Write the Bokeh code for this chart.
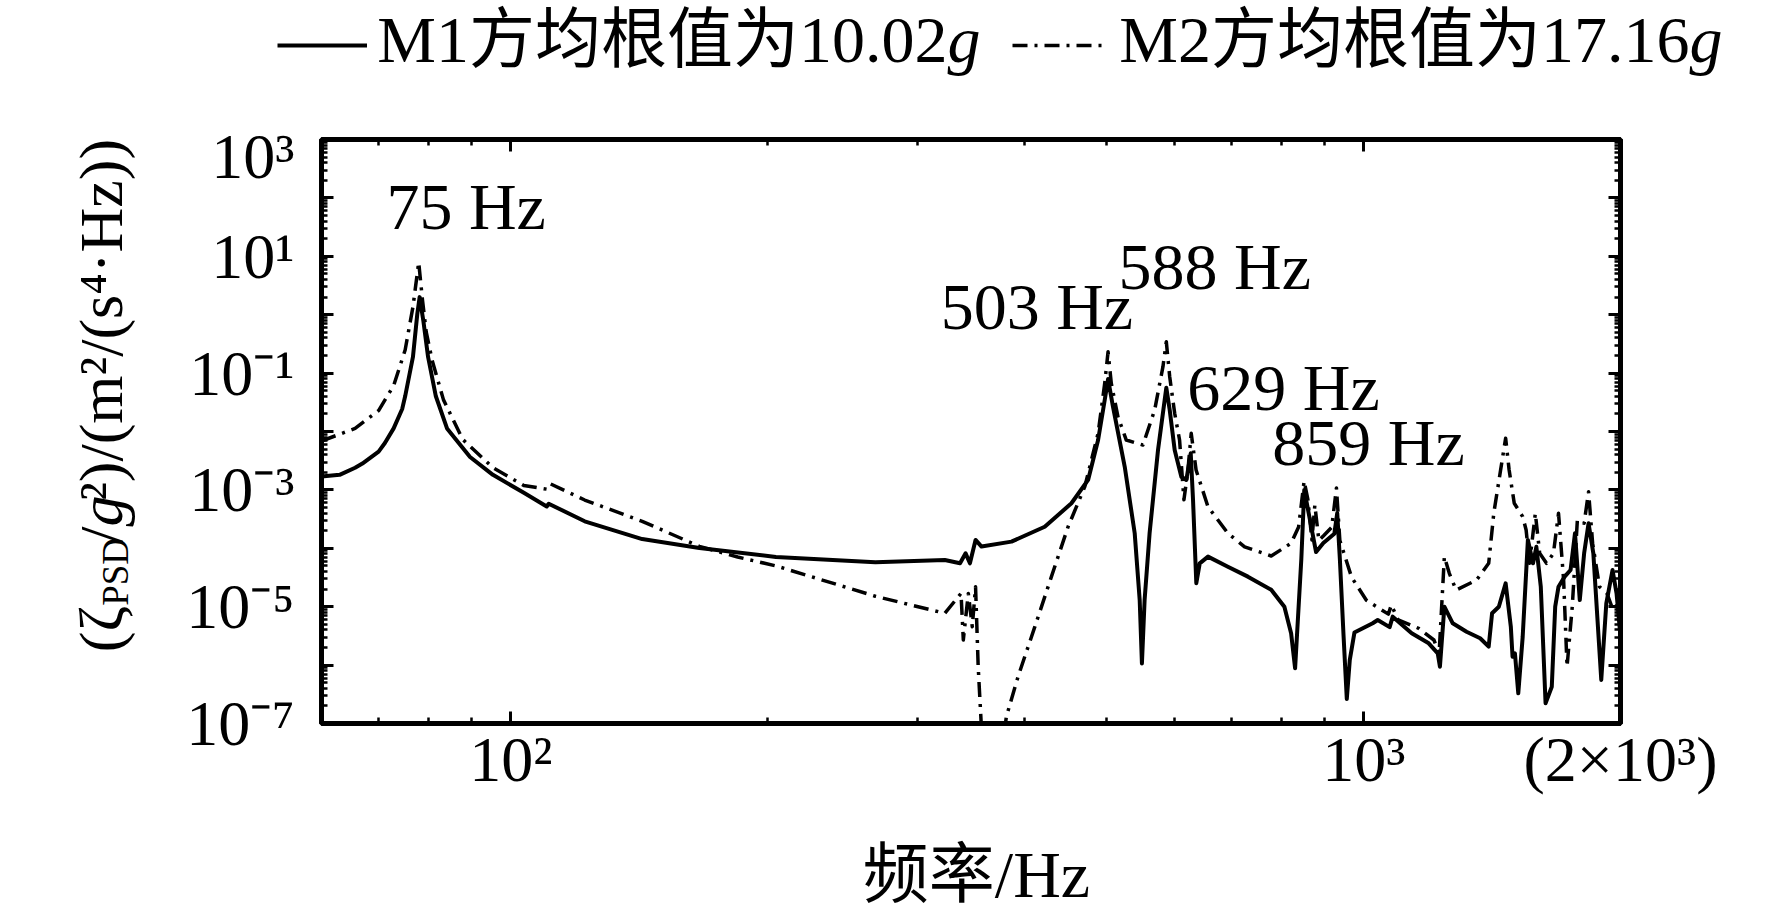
from bokeh.plotting import figure
from bokeh.layouts import column, row
from bokeh.models import (Range1d, FixedTicker, LogAxis, Label, Legend, LegendItem,
                          CustomJSTickFormatter, ColumnDataSource)
from bokeh.core.properties import value
from bokeh.embed import file_html
from bokeh.resources import INLINE
import math

# ---------------- data ----------------
freq_m1 = [60, 63.0, 65.7, 67.0, 70.0, 71.2, 72.9, 74.6, 75.2, 76.8, 77.7, 78.2, 79.0, 80.0,
           81.7, 84.2, 89.6, 95.3,
           103.6, 110.2, 110.8, 122.1, 142.6, 166.4, 204.6, 267.6, 322.8, 336.3, 341.4, 345.4,
           350.7, 356.4, 386.4, 422.7, 454.3, 475.2, 488.2, 497.0, 501.5, 508.2, 524.6, 538.9,
           546.2, 549.5, 553.5, 561.0, 573.9, 584.3, 586.9, 592.3, 600.3, 611.2, 619.5, 626.9,
           630.8, 636.4, 642.3, 656.8, 693.0, 731.5, 779.0, 807.2, 822.0, 830.9, 845.0, 851.7,
           861.9, 879.3, 896.7, 923.7, 931.0, 937.6, 947.0, 955.3, 963.1, 975.2, 1024.5, 1038.5,
           1072.5, 1081.4, 1138.3, 1191.8, 1221.2, 1228.4, 1243.2, 1271.6, 1319.8, 1369.3, 1401.2,
           1414.1, 1440.1, 1466.8, 1487.5, 1494.4, 1504.1, 1517.7, 1535.9, 1557.6, 1579.3, 1593.6,
           1612.8, 1633.7, 1661.4, 1676.8, 1691.9, 1720.2, 1747.8, 1768.8, 1791.8, 1813.0, 1834.8,
           1858.6, 1898.8, 1924.8, 1957.5, 1978.8, 2000]
psd_m1 = [1.69e-3, 1.81e-3, 2.40e-3, 2.83e-3, 4.53e-3, 6.35e-3, 1.13e-2, 2.43e-2, 4.01e-2,
          0.189, 1.02, 2.0, 0.771, 0.189, 4.01e-2,
          1.13e-2, 3.66e-3, 1.81e-3, 8.95e-4, 5.2e-4, 5.8e-4, 2.90e-4, 1.44e-4, 1.01e-4, 7.10e-5,
          5.75e-5, 6.31e-5, 5.53e-5, 8.20e-5, 5.53e-5, 1.39e-4, 1.07e-4, 1.30e-4, 2.34e-4, 5.90e-4,
          1.48e-3, 7.14e-3, 3.46e-2, 7.9e-2, 2.66e-2, 2.49e-3, 1.81e-4, 1.30e-5, 1.07e-6, 1.30e-5,
          1.81e-4, 4.82e-3, 3.46e-2, 5.6e-2, 2.33e-2, 4.82e-3, 1.68e-3, 1.48e-3, 4.24e-3, 6.71e-4,
          2.52e-5, 5.53e-5, 7.20e-5, 4.84e-5, 3.27e-5, 1.95e-5, 1.0e-5, 3.51e-6, 8.81e-7, 6.61e-5,
          1.0e-3, 4.01e-4, 8.61e-5, 1.23e-4, 1.77e-4, 4.01e-4, 6.61e-5, 3.2e-6, 2.63e-7, 1.23e-6,
          3.61e-6, 5.20e-6, 5.92e-6, 4.47e-6, 6.76e-6, 3.51e-6, 2.36e-6, 1.59e-6, 9.40e-7, 1.0e-5,
          5.20e-6, 3.73e-6, 2.88e-6, 2.07e-6, 7.71e-6, 1.0e-5, 2.51e-5, 4.55e-6, 1.39e-6, 1.59e-6,
          3.29e-7, 3.06e-6, 1.39e-4, 5.53e-5, 1.06e-4, 2.20e-5, 2.22e-7, 4.27e-7, 1.0e-5, 2.20e-5,
          3.27e-5, 4.25e-5, 1.81e-4, 1.30e-5, 8.20e-5, 2.68e-4, 8.20e-5, 5.56e-7, 1.14e-5, 4.25e-5,
          1.69e-5, 3.06e-6]

freq_m2 = [60, 65.7, 70.0, 72.9, 75.2, 76.8, 78.0, 78.8, 79.6, 80.9, 83.4, 87.8, 95.3, 103.6,
           110.2, 111.3, 122.1, 142.6, 166.4, 184.5, 204.6, 267.6, 322.8, 337.2, 339.3, 343.9,
           347.6, 350.7, 353.2, 356.4, 362.8, 372.7, 381.1, 393.3, 411.6, 430.4, 450.2, 471.0,
           488.2, 497.0, 501.5, 505.9, 515.1, 526.8, 551.0, 568.7, 581.6, 586.9, 592.3, 600.3,
           608.3, 615.5, 622.2, 627.7, 636.0, 656.8, 693.0, 725.0, 779.0, 822.0, 838.8, 851.4,
           860.0, 869.4, 876.4, 886.0, 896.7, 917.3, 929.0, 937.6, 967.9, 1007.2, 1068.8, 1077.4,
           1097.5, 1159.8, 1208.6, 1225.7, 1243.2, 1259.9, 1283.3, 1356.0, 1401.2, 1420.6, 1447.0,
           1466.8, 1480.7, 1501.3, 1535.9, 1550.2, 1564.6, 1589.2, 1608.0, 1637.9, 1668.8, 1691.9,
           1715.4, 1731.3, 1755.8, 1780.2, 1813.0, 1834.8, 1855.0, 1889.8, 1928.3, 1960.2, 2000]
psd_m2 = [6.87e-3, 1.13e-2, 2.28e-2, 6.11e-2, 0.249, 1.36, 7.9, 1.79, 0.506, 0.164, 3.48e-2,
          7.38e-3, 2.40e-3, 1.19e-3, 1.03e-3, 1.27e-3, 6.71e-4, 2.90e-4, 1.08e-4, 7.10e-5, 5.00e-5,
          1.51e-5, 7.71e-6, 1.69e-5, 2.69e-6, 1.69e-5, 4.55e-6, 2.20e-5, 9.40e-7, 7.8e-8, 1e-8,
          1e-8, 1.31e-7, 6.32e-7, 4.55e-6, 3.27e-5, 2.34e-4, 1.14e-3, 9.31e-3, 6.68e-2, 0.232,
          6.68e-2, 1.79e-2, 7.14e-3, 5.87e-3, 2.33e-2, 0.129, 0.345, 8.67e-2, 2.05e-2, 7.14e-3,
          6.76e-4, 2.19e-3, 9.31e-3, 2.19e-3, 5.15e-4, 1.81e-4, 1.06e-4, 7.38e-5, 1.22e-4, 2.32e-4,
          1.42e-3, 6.90e-4, 1.39e-4, 5.50e-4, 1.36e-4, 1.62e-4, 2.29e-4, 1.08e-3, 1.36e-4, 3.18e-5,
          1.29e-5, 7.46e-6, 1.07e-5, 5.92e-6, 4.27e-6, 2.69e-6, 1.59e-6, 7.18e-5, 3.73e-5, 1.93e-5,
          2.86e-5, 5.53e-5, 3.97e-4, 2.19e-3, 7.66e-3, 2.19e-3, 5.90e-4, 3.48e-4, 2.06e-4, 5.53e-5,
          3.97e-4, 8.20e-5, 5.53e-5, 8.20e-5, 3.97e-4, 2.86e-5, 9.40e-7, 1.0e-5, 3.05e-4, 2.68e-4,
          9.31e-4, 1.22e-4, 2.20e-5, 1.69e-5, 8.77e-6, 1.30e-5]

x_tick_values = [100, 1000, 2000]
x_tick_labels = ["10²", "10³", "(2×10³)"]
x_minor_ticks = [60, 70, 80, 90, 200, 300, 400, 500, 600, 700, 800, 900]
y_tick_values = [1e-7, 1e-6, 1e-5, 1e-4, 1e-3, 1e-2, 1e-1, 1, 10, 100, 1000]
y_tick_labels = ["10⁻⁷", "", "10⁻⁵", "", "10⁻³", "", "10⁻¹", "", "10¹", "", "10³"]
y_minor_ticks = [m * 10.0 ** e for e in range(-7, 3) for m in range(2, 10)]

peak_labels = ["75 Hz", "503 Hz", "588 Hz", "629 Hz", "859 Hz"]
peak_label_f = [71.5, 319.2, 515.9, 621.1, 781.3]
peak_label_v = [72.6, 1.36, 6.82, 0.0577, 6.36e-3]

legend_texts = ["M1方均根值为10.02", "M2方均根值为17.16"]
x_title = "频率/Hz"

SERIF = "'Liberation Serif', 'Noto Sans CJK SC'"
W, TOP_H, MID_H, BOT_H, LEFT_W = 1756, 120, 700, 92, 170
NAN = float("nan")


def helper(w, h):
    f = figure(width=w, height=h, x_range=Range1d(0, w), y_range=Range1d(0, h),
               output_backend="svg", toolbar_location=None, min_border=0,
               x_axis_location=None, y_axis_location=None)
    f.grid.visible = False
    f.outline_line_color = None
    f.background_fill_color = "white"
    f.border_fill_color = "white"
    return f


# ---------------- main plot ----------------
p = figure(width=W - LEFT_W, height=MID_H, x_axis_type="log", y_axis_type="log",
           x_range=Range1d(60, 2000), y_range=Range1d(1e-7, 1e3),
           output_backend="svg", toolbar_location=None,
           min_border_left=151, min_border_right=136, min_border_top=19, min_border_bottom=97)
p.grid.visible = False
p.outline_line_color = "black"
p.outline_line_width = 5
p.background_fill_color = "white"
p.border_fill_color = "white"

bottom_ax = p.xaxis[0]
left_ax = p.yaxis[0]

src1 = ColumnDataSource(dict(f=freq_m1, psd=psd_m1))
src2 = ColumnDataSource(dict(f=freq_m2, psd=psd_m2))
r1 = p.line("f", "psd", source=src1, line_color="black", line_width=4, line_join="round")
r2 = p.line("f", "psd", source=src2, line_color="black", line_width=3.5, line_join="round",
            line_dash="15 7 3 7")

xt = FixedTicker(ticks=x_tick_values, minor_ticks=x_minor_ticks)
yt = FixedTicker(ticks=y_tick_values, minor_ticks=y_minor_ticks)

bottom_ax.ticker = xt
bottom_ax.major_label_overrides = dict(zip(x_tick_values, x_tick_labels))
left_ax.ticker = yt
left_ax.major_label_overrides = dict(zip(y_tick_values, y_tick_labels))

top_ax = LogAxis(ticker=xt, formatter=CustomJSTickFormatter(code="return ''"))
right_ax = LogAxis(ticker=yt, formatter=CustomJSTickFormatter(code="return ''"))
p.add_layout(top_ax, "above")
p.add_layout(right_ax, "right")

for ax in [bottom_ax, left_ax, top_ax, right_ax]:
    ax.axis_line_width = 5
    ax.axis_line_color = "black"
    ax.major_tick_in = 12
    ax.major_tick_out = 0
    ax.minor_tick_in = 6
    ax.minor_tick_out = 0
    ax.major_tick_line_width = 3
    ax.minor_tick_line_width = 2.5
    ax.major_tick_line_color = "black"
    ax.minor_tick_line_color = "black"
    ax.major_label_text_font = "Liberation Serif"
    ax.major_label_text_font_size = "64px"
    ax.major_label_text_color = "black"

for ax in [top_ax, right_ax]:
    ax.major_label_text_font_size = "1px"
    ax.major_label_standoff = 0

bottom_ax.major_label_standoff = 0
left_ax.major_label_standoff = 27

for t, f, v in zip(peak_labels, peak_label_f, peak_label_v):
    p.add_layout(Label(x=f, y=v, text=t, text_font=SERIF, text_font_size="66px",
                       text_align="left", text_baseline="alphabetic", text_color="black"))

# ---------------- legend strip (top) ----------------
top = helper(W, TOP_H)
# legend-only renderers (a single NaN point, so nothing is drawn in the strip itself)
d1 = top.line(x=[NAN], y=[NAN], line_color="black", line_width=4)
d2 = top.line(x=[NAN], y=[NAN], line_color="black", line_width=3.5, line_dash="15 7 3 7")
for r, vx in [(d1, 277), (d2, 1012)]:
    top.add_layout(Legend(items=[LegendItem(label=" ", renderers=[r])], location=(vx, 65),
                          orientation="horizontal", glyph_width=90, glyph_height=20,
                          padding=0, margin=0, spacing=0, label_standoff=0,
                          label_text_font_size="1px", border_line_color=None,
                          background_fill_alpha=0))
leg_x = [947, 1689]
leg_y = [81, 81]
top.text(x=leg_x, y=leg_y, text=legend_texts, text_font=value(SERIF),
         text_font_size=value("66px"), text_align="right", text_baseline="alphabetic",
         text_color="black")
top.text(x=leg_x, y=leg_y, text=["g", "g"], text_font=value(SERIF),
         text_font_size=value("66px"), text_font_style=value("italic"), text_align="left",
         text_baseline="alphabetic", text_color="black")

# ---------------- y title strip (left) ----------------
left = helper(LEFT_W, MID_H)
ang = math.pi / 2
ypieces = [
    ("(ζ", 100, 141, "right", "62px", "normal"),
    ("PSD", 115, 141, "left", "37px", "normal"),
    ("/", 100, 236, "right", "62px", "normal"),
    ("g", 100, 236, "left", "62px", "italic"),
    ("²)/(m²/(s⁴·Hz))", 100, 267, "left", "62px", "normal"),
]
for t, x, y, al, fs, st in ypieces:
    left.text(x=[x], y=[y], text=[t], angle=ang, text_font=value(SERIF),
              text_font_size=value(fs), text_font_style=value(st), text_align=al,
              text_baseline="alphabetic", text_color="black")

# ---------------- x title strip (bottom) ----------------
bottom = helper(W, BOT_H)
bottom.text(x=[976], y=[38], text=[x_title], text_font=value(SERIF),
            text_font_size=value("66px"), text_align="center", text_baseline="alphabetic",
            text_color="black")

layout = column(top, row(left, p), bottom)
open("out.html", "w").write(file_html(layout, INLINE))
